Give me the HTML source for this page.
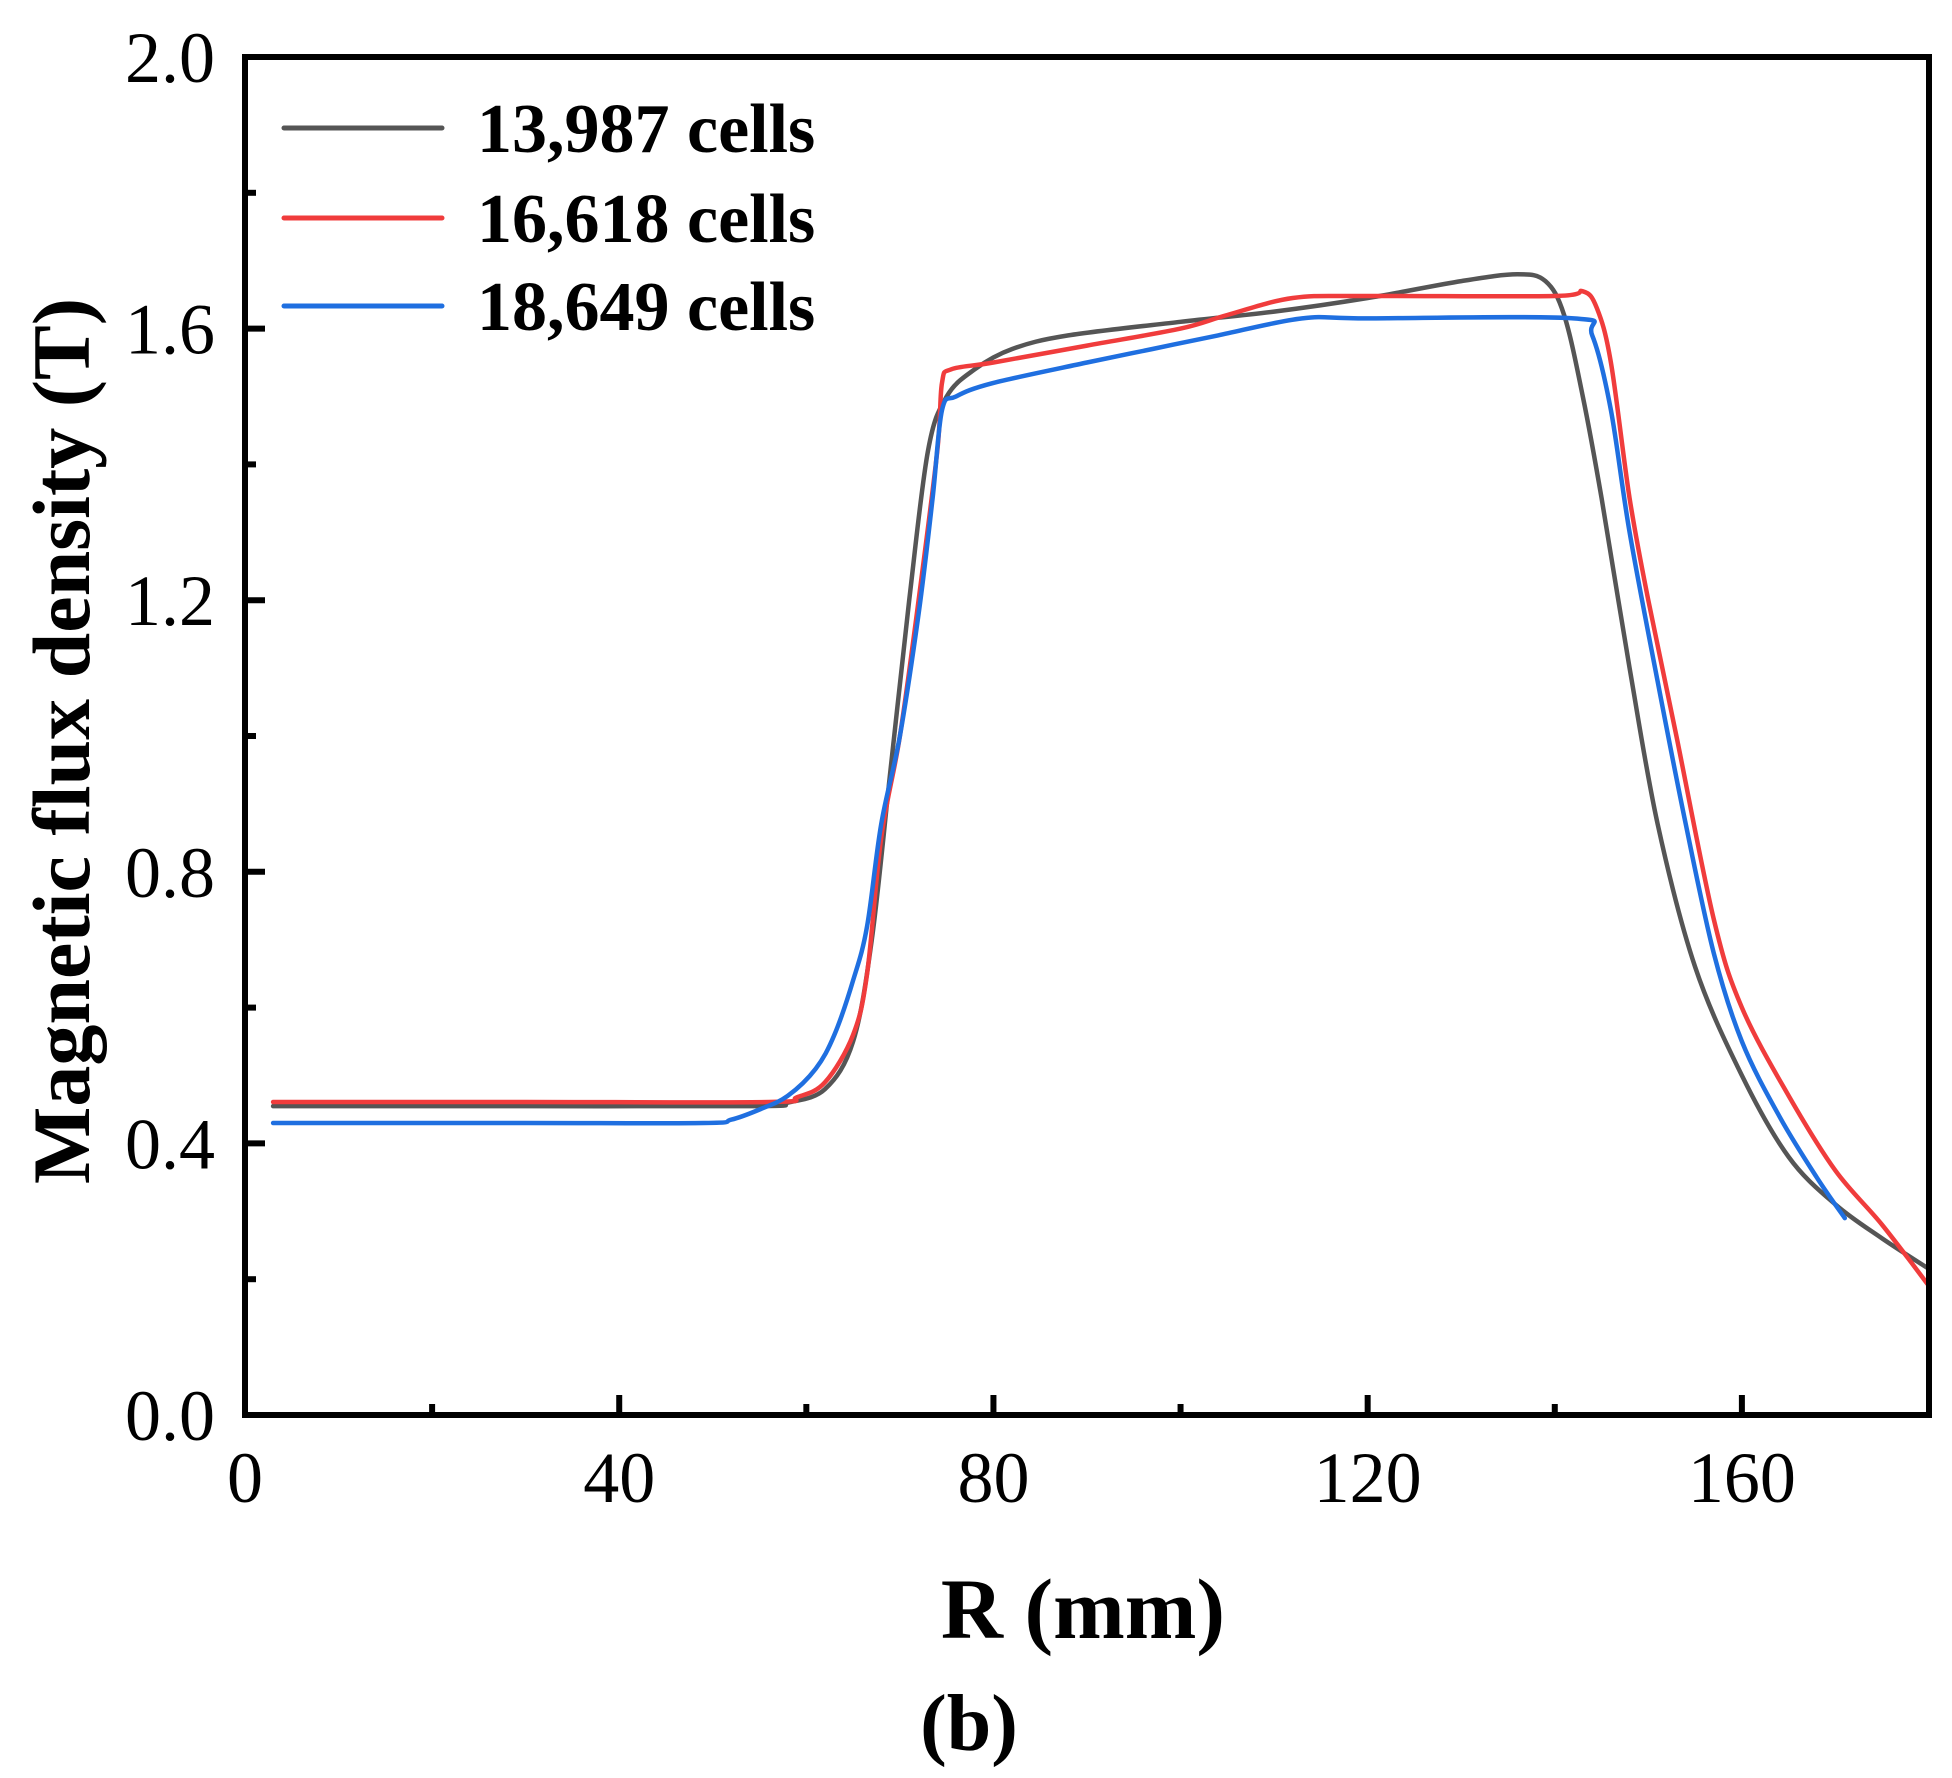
<!DOCTYPE html>
<html><head><meta charset="utf-8"><style>
html,body{margin:0;padding:0;background:#fff;}
svg{display:block;font-family:"Liberation Serif",serif;}
</style></head><body>
<svg id="chart" width="1952" height="1778" viewBox="0 0 1952 1778" xmlns="http://www.w3.org/2000/svg">
<g id="plot"></g>
<g id="axes"></g>
<g id="legend"></g>
<text x="1083" y="1638" font-size="86" font-weight="bold" text-anchor="middle">R (mm)</text>
<text x="969" y="1750" font-size="80" font-weight="bold" text-anchor="middle">(b)</text>
<text transform="translate(89,741) rotate(-90)" font-size="82" font-weight="bold" text-anchor="middle">Magnetic flux density (T)</text>
</svg>
<script>
const xTicks = [0, 40, 80, 120, 160];
const yTicks = [0.0, 0.4, 0.8, 1.2, 1.6, 2.0];
const yTickLabels = ["0.0", "0.4", "0.8", "1.2", "1.6", "2.0"];
const seriesNames = ["13,987 cells", "16,618 cells", "18,649 cells"];
const seriesColors = ["#555555", "#f03c3c", "#1f6fe0"];
const blackX = [3,30,55,58,62,65,67,69,71,73,75,78,82,88,100,110,120,130,136,139,141,143,145,148,151,155,160,165,170,175,180];
const blackY = [0.455,0.455,0.455,0.46,0.48,0.55,0.70,0.95,1.20,1.42,1.50,1.54,1.57,1.59,1.61,1.625,1.645,1.67,1.68,1.67,1.62,1.50,1.35,1.10,0.87,0.66,0.50,0.38,0.31,0.26,0.215];
const redX = [3,30,56,59,62,65,66.5,68,70,72,74,74.5,75.5,80,90,100,105,112,120,140,143,144.5,146,148,150,153,157,160,165,170,175,180];
const redY = [0.461,0.461,0.461,0.468,0.49,0.56,0.65,0.85,1.0,1.2,1.42,1.52,1.54,1.55,1.575,1.60,1.62,1.645,1.648,1.648,1.655,1.63,1.55,1.35,1.20,1.0,0.73,0.60,0.47,0.36,0.28,0.19];
const blueX = [3,30,49,52,55,58,61,63,65,66.5,68,70,72,73.5,74.5,76,80,90,97,104,113,120,142,144,146,148,151,154,157,160,164,168,171];
const blueY = [0.43,0.43,0.43,0.435,0.45,0.47,0.51,0.56,0.64,0.72,0.87,1.0,1.18,1.35,1.48,1.50,1.52,1.55,1.57,1.59,1.615,1.615,1.615,1.59,1.48,1.30,1.08,0.87,0.68,0.55,0.44,0.35,0.29];

const L=245,R=1929,T=57,B=1415, XMIN=0,XMAX=180,YMIN=0,YMAX=2;
const sx=v=>L+(v-XMIN)/(XMAX-XMIN)*(R-L);
const sy=v=>B-(v-YMIN)/(YMAX-YMIN)*(B-T);
const NS="http://www.w3.org/2000/svg";
function mk(tag,attrs,parent){const e=document.createElementNS(NS,tag);for(const k in attrs)e.setAttribute(k,attrs[k]);parent.appendChild(e);return e;}
function smoothPath(p){
  let d='M'+p[0][0].toFixed(1)+','+p[0][1].toFixed(1);
  for(let i=0;i<p.length-1;i++){
    const p0=p[Math.max(0,i-1)],p1=p[i],p2=p[i+1],p3=p[Math.min(p.length-1,i+2)];
    const c1x=p1[0]+(p2[0]-p0[0])/6,c1y=p1[1]+(p2[1]-p0[1])/6;
    const c2x=p2[0]-(p3[0]-p1[0])/6,c2y=p2[1]-(p3[1]-p1[1])/6;
    d+=' C'+c1x.toFixed(1)+','+c1y.toFixed(1)+' '+c2x.toFixed(1)+','+c2y.toFixed(1)+' '+p2[0].toFixed(1)+','+p2[1].toFixed(1);
  }
  return d;
}
const plot=document.getElementById('plot'), axes=document.getElementById('axes'), legend=document.getElementById('legend');
const allX=[blackX,redX,blueX], allY=[blackY,redY,blueY];
for(let s=0;s<3;s++){
  const pts=allX[s].map((x,i)=>[sx(x),sy(allY[s][i])]);
  const pl=mk('path',{d:smoothPath(pts),fill:'none',stroke:seriesColors[s],'stroke-width':4.5,'stroke-linejoin':'round','stroke-linecap':'round'},plot);
  
  
}
const fr=mk('rect',{x:L,y:T,width:R-L,height:B-T,fill:'none',stroke:'#000','stroke-width':6},axes);


for(let v=0;v<=XMAX;v+=20){
  const major=v%40===0;
  const t=mk('line',{x1:sx(v),x2:sx(v),y1:B,y2:B-(major?20:11),stroke:'#000','stroke-width':6},axes);
  
  
}
xTicks.forEach(v=>{
  const t=mk('text',{x:sx(v),y:1502,'font-size':72,'text-anchor':'middle'},axes);
  t.textContent=String(v);
  
  
});
for(let k=0;k<=10;k++){
  const v=k*0.2, major=k%2===0;
  const t=mk('line',{x1:L,x2:L+(major?20:11),y1:sy(v),y2:sy(v),stroke:'#000','stroke-width':6},axes);
  
  
}
yTicks.forEach((v,i)=>{
  const t=mk('text',{x:215,y:sy(v)+25,'font-size':72,'text-anchor':'end'},axes);
  t.textContent=yTickLabels[i];
  
  
});
const ly=[128,218,306];
for(let s=0;s<3;s++){
  const g=mk('g',{},legend);
  
  
  mk('line',{x1:284,x2:442,y1:ly[s],y2:ly[s],stroke:seriesColors[s],'stroke-width':5,'stroke-linecap':'round'},g);
  const t=mk('text',{x:477,y:ly[s]+24,'font-size':70,'font-weight':'bold'},g);
  t.textContent=seriesNames[s];
}
</script>
</body></html>
